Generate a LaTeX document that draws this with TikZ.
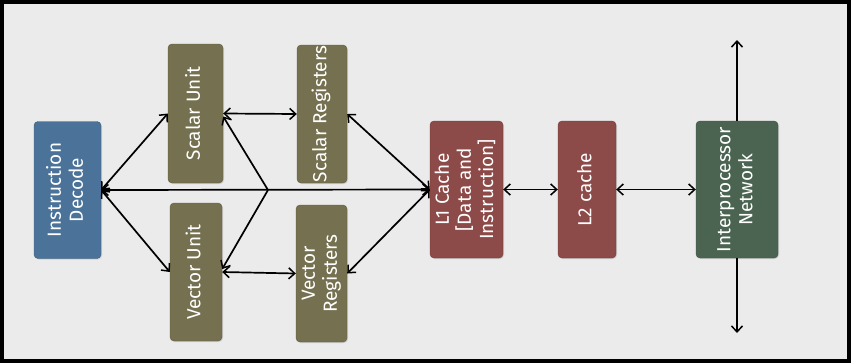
\documentclass[tikz,border=0pt]{standalone}
\usepackage{fontspec}
\setsansfont{Fira Sans}
\usepackage{graphicx}
\usetikzlibrary{
arrows.meta,
positioning,
shadows
}
\tikzset{>={Straight Barb[length=6pt,width=11pt,line width=1.5pt]}}

\definecolor{bgcol}{HTML}{EBEBEB}
\definecolor{decblue}{HTML}{4B7399}
\definecolor{unitol}{HTML}{747050}
\definecolor{cachered}{HTML}{8C4A48}
\definecolor{netgreen}{HTML}{4B6451}

\newcommand{\vlabel}[1]{\rotatebox{90}{\begin{tabular}{@{}c@{}}#1\end{tabular}}}

\begin{document}
\begin{tikzpicture}[x=1pt, y=-1pt, font=\sffamily\fontsize{19}{22}\selectfont,
	blk/.style={rounded corners=4pt, text=white, inner sep=0pt,
		drop shadow={shadow xshift=1pt, shadow yshift=-1pt, opacity=0.25}},
	link/.style={<->, line width=1.7pt}]
		\useasboundingbox (0,0) rectangle (854,364);
		\draw[line width=3.5pt, fill=bgcol] (2,2) rectangle (849,361);
		
		\node[blk, fill=decblue, draw=decblue!80!black, minimum width=67pt, minimum height=137pt] (decode) at (67.5,190) {\vlabel{Instruction\\Decode}};
		\node[blk, fill=unitol, draw=unitol!80!black, minimum width=55pt, minimum height=139pt] (sunit) at (195.5,113.5) {\vlabel{Scalar Unit}};
		\node[blk, fill=unitol, draw=unitol!80!black, minimum width=50pt, minimum height=138pt] (sregs) at (322,114) {\vlabel{Scalar Registers}};
		\node[blk, fill=unitol, draw=unitol!80!black, minimum width=52pt, minimum height=138pt] (vunit) at (196,272) {\vlabel{Vector Unit}};
		\node[blk, fill=unitol, draw=unitol!80!black, minimum width=51pt, minimum height=137pt] (vregs) at (321.5,273.5) {\vlabel{Vector\\Registers}};
		\node[blk, fill=cachered, draw=cachered!80!black, minimum width=73pt, minimum height=137pt] (lone) at (466.5,189.5) {\vlabel{L1 Cache\\{[}Data and\\Instruction{]}}};
		\node[blk, fill=cachered, draw=cachered!80!black, minimum width=58pt, minimum height=137pt] (ltwo) at (587,189.5) {\vlabel{L2 cache}};
		\node[blk, fill=netgreen, draw=netgreen!80!black, minimum width=82pt, minimum height=137pt] (net) at (737,189.5) {\vlabel{Interprocessor\\Network}};
		
		\coordinate (fork) at (268,190);
		\coordinate (nettop) at (737,40);
		\coordinate (netbot) at (737,333);
		
		\draw[link] (decode.east) -- (sunit.west);
		\draw[link] (decode.east) -- (vunit.west);
		\draw[link] (decode.east) -- (lone.west);
		\draw[->, line width=1.7pt] (fork) -- ([yshift=-3pt]sunit.east);
		\draw[->, line width=1.7pt] (fork) -- ([yshift=3pt]vunit.east);
		\draw[link] (sunit.east) -- (sregs.west);
		\draw[link] (vunit.east) -- (vregs.west);
		\draw[link] (sregs.east) -- (lone.west);
		\draw[link] (vregs.east) -- (lone.west);
		\draw[link] (lone.east) -- (ltwo.west);
		\draw[link] (ltwo.east) -- (net.west);
		\draw[->, line width=1.7pt] (net.north) -- (nettop);
		\draw[->, line width=1.7pt] (net.south) -- (netbot);
	\end{tikzpicture}
\end{document}
